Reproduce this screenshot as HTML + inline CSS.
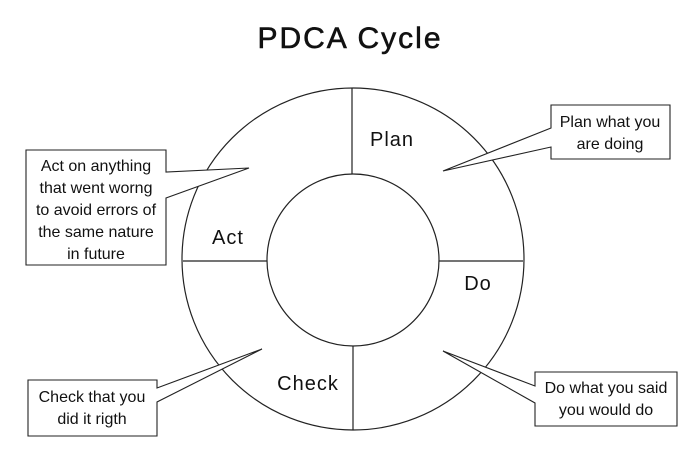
<!DOCTYPE html>
<html><head><meta charset="utf-8"><style>
html,body{margin:0;padding:0;background:#fff;width:700px;height:461px;overflow:hidden}
svg text{font-family:"Liberation Sans",sans-serif;fill:#111}
</style></head><body>
<svg width="700" height="461" viewBox="0 0 700 461" xmlns="http://www.w3.org/2000/svg">
<g fill="none" stroke="#222" stroke-width="1.2">
<circle cx="353" cy="259" r="171"/>
<circle cx="353" cy="260" r="86"/>
<line x1="352" y1="88" x2="352" y2="174"/>
<line x1="353" y1="346" x2="353" y2="430"/>
<line x1="183" y1="261" x2="267" y2="261"/>
<line x1="439" y1="261" x2="523" y2="261"/>
</g>
<g fill="#fff" stroke="#222" stroke-width="1.1">
<path d="M166,150 L26,150 L26,265 L166,265 L166,198 L249,168 L166,172 Z"/>
<path d="M551,105 L670,105 L670,159 L551,159 L551,147 L443,171 L551,128 Z"/>
<path d="M157,380 L157,388 L262,349 L157,402 L157,436 L28,436 L28,380 Z"/>
<path d="M535,372 L677,372 L677,426 L535,426 L535,403 L443,351 L535,386 Z"/>
</g>
<text x="350" y="48" font-size="30" text-anchor="middle" letter-spacing="2" stroke="#111" stroke-width="0.6">PDCA Cycle</text>
<text x="392" y="146" font-size="20" text-anchor="middle" letter-spacing="1">Plan</text>
<text x="228" y="244" font-size="20" text-anchor="middle" letter-spacing="1">Act</text>
<text x="478" y="290" font-size="20" text-anchor="middle" letter-spacing="1">Do</text>
<text x="308" y="390" font-size="20" text-anchor="middle" letter-spacing="1">Check</text>
<g font-size="16" text-anchor="middle">
<text x="96" y="171">Act on anything</text>
<text x="96" y="193">that went worng</text>
<text x="96" y="215">to avoid errors of</text>
<text x="96" y="237">the same nature</text>
<text x="96" y="259">in future</text>
<text x="610" y="127">Plan what you</text>
<text x="610" y="149">are doing</text>
<text x="92" y="402">Check that you</text>
<text x="92" y="424">did it rigth</text>
<text x="606" y="393">Do what you said</text>
<text x="606" y="415">you would do</text>
</g>
</svg>
</body></html>
